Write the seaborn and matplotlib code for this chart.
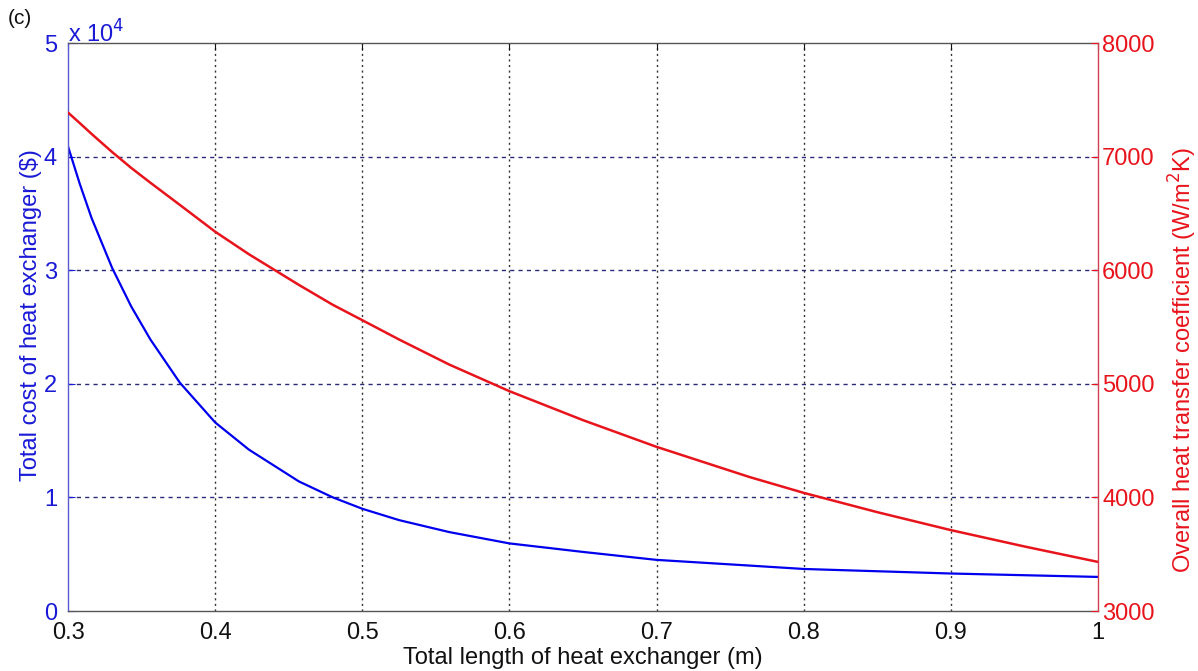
import matplotlib
matplotlib.use("Agg")
import matplotlib.pyplot as plt
import seaborn as sns
import pandas as pd
from matplotlib.ticker import FuncFormatter

# Length of the heat exchanger (m)
length_m = [0.30, 0.308, 0.316, 0.33, 0.343, 0.356, 0.376, 0.40, 0.423, 0.457, 0.48, 0.50,
            0.525, 0.559, 0.60, 0.65, 0.70, 0.763, 0.80, 0.85, 0.90, 0.95, 1.00]
# Total cost of heat exchanger ($)
total_cost = [40900, 37600, 34600, 30200, 26800, 23900, 20100, 16600, 14200, 11400, 10000, 9000,
              8000, 6950, 5950, 5200, 4500, 4000, 3700, 3500, 3300, 3150, 3000]
# Overall heat transfer coefficient (W/m^2K)
heat_coeff = [7388, 7295, 7200, 7040, 6900, 6770, 6575, 6339, 6140, 5870, 5695, 5560,
              5390, 5170, 4935, 4680, 4445, 4180, 4040, 3870, 3712, 3568, 3432]

x_ticks = [0.3, 0.4, 0.5, 0.6, 0.7, 0.8, 0.9, 1.0]
cost_ticks = [0, 10000, 20000, 30000, 40000, 50000]
coeff_ticks = [3000, 4000, 5000, 6000, 7000, 8000]

BLUE = "#1a1ad6"
RED = "#e8141c"
FS = 17

sns.set_style("white")
plt.rcParams["font.family"] = ["Liberation Sans", "DejaVu Sans"]

df = pd.DataFrame({"length": length_m, "cost": total_cost, "coeff": heat_coeff})

fig = plt.figure(figsize=(11.98, 6.71), dpi=100)
ax = fig.add_axes([68 / 1198, 60 / 671, 1030 / 1198, 568 / 671])
ax2 = ax.twinx()

sns.lineplot(data=df, x="length", y="cost", ax=ax, color="#0000ee", linewidth=1.6)
sns.lineplot(data=df, x="length", y="coeff", ax=ax2, color=RED, linewidth=1.8)

ax.set_xlim(0.3, 1.0)
ax.set_ylim(0, 50000)
ax2.set_ylim(3000, 8000)
ax.set_xticks(x_ticks)
ax.set_xticklabels(["0.3", "0.4", "0.5", "0.6", "0.7", "0.8", "0.9", "1"])
ax.set_yticks(cost_ticks)
ax.yaxis.set_major_formatter(FuncFormatter(lambda v, p: f"{v / 1e4:.0f}"))
ax2.set_yticks(coeff_ticks)

# Grid lines: dashed navy horizontals, dotted dark verticals
for yv in cost_ticks[1:-1]:
    ax.axhline(yv, color="#2a2a78", linewidth=1.0, dashes=(3, 3), zorder=0)
for xv in x_ticks[1:-1]:
    ax.axvline(xv, color="#333333", linewidth=1.0, dashes=(1.5, 2.5), zorder=0)

ax.tick_params(axis="x", direction="in", length=5, colors="#111111", labelsize=FS, pad=8,
               top=True)
ax.tick_params(axis="y", direction="in", length=5, colors=BLUE, labelsize=FS, pad=8)
ax2.tick_params(axis="y", direction="in", length=5, colors=RED, labelsize=FS, pad=3)
for lab in ax.get_xticklabels():
    lab.set_color("#111111")

for sp in ("top", "bottom"):
    ax.spines[sp].set_color("#555555")
    ax2.spines[sp].set_visible(False)
ax.spines["left"].set_color("#5a5ad0")
ax2.spines["left"].set_visible(False)
ax.spines["right"].set_visible(False)
ax2.spines["right"].set_color("#d04050")
for a in (ax, ax2):
    for sp in a.spines.values():
        sp.set_linewidth(1.0)

ax.set_xlabel("Total length of heat exchanger (m)", fontsize=FS, color="#111111", labelpad=2)
ax.set_ylabel("Total cost of heat exchanger (\\$)", fontsize=FS, color=BLUE)
ax2.set_ylabel("Overall heat transfer coefficient (W/m$^2$K)", fontsize=FS, color=RED)
ax.yaxis.set_label_coords(-0.025, 0.521)
ax2.yaxis.set_label_coords(1.067, 0.442)

# Exponent marker for the cost axis and the panel tag
fig.text(68 / 1198, 1 - 34 / 671, "x 10$^4$", fontsize=FS, color=BLUE,
         ha="left", va="center")
fig.text(8 / 1198, 1 - 18 / 671, "(c)", fontsize=15, color="#111111",
         ha="left", va="center")

fig.savefig("out.png", dpi=100, facecolor="white")
